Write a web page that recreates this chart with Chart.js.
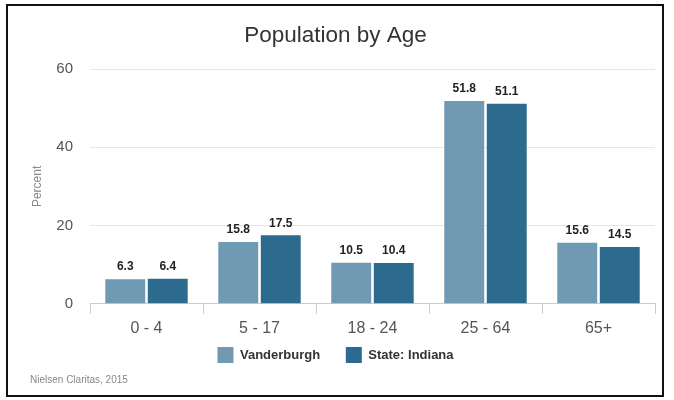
<!DOCTYPE html>
<html>
<head>
<meta charset="utf-8">
<script src="https://cdn.jsdelivr.net/npm/chart.js@4/dist/chart.umd.min.js"></script>
<style>
  html, body { margin: 0; padding: 0; background: #fff; }
  #frame {
    position: absolute; left: 6px; top: 4px;
    width: 654px; height: 389px;
    border: 2px solid #111; background: #fff;
  }
  #frame canvas { display: block; }
</style>
</head>
<body>
<div id="frame"><canvas id="ageChart" width="654" height="389"></canvas></div>
<script>
  // population share by age band (percent)
  var AGE_BANDS = ['0 - 4', '5 - 17', '18 - 24', '25 - 64', '65+'];
  var VANDERBURGH = [6.3, 15.8, 10.5, 51.8, 15.6];
  var INDIANA = [6.4, 17.5, 10.4, 51.1, 14.5];
  var Y_TICKS = [0, 20, 40, 60];
  var SOURCE_NOTE = 'Nielsen Claritas, 2015';

  var FONT = '"Liberation Sans", Arial, Helvetica, sans-serif';

  // prints each bar's value just above it
  var valueLabels = {
    id: 'valueLabels',
    afterDatasetsDraw: function (chart) {
      var ctx = chart.ctx;
      ctx.save();
      ctx.font = 'bold 12px ' + FONT;
      ctx.fillStyle = '#222';
      ctx.textAlign = 'center';
      ctx.textBaseline = 'middle';
      chart.data.datasets.forEach(function (ds, i) {
        chart.getDatasetMeta(i).data.forEach(function (bar, j) {
          ctx.fillText(ds.data[j].toFixed(1), bar.x, bar.y - 12);
        });
      });
      ctx.restore();
    }
  };

  // small source line in the bottom-left corner (space kept by layout padding)
  var sourceNote = {
    id: 'sourceNote',
    afterDraw: function (chart) {
      var ctx = chart.ctx;
      ctx.save();
      ctx.font = '10px ' + FONT;
      ctx.fillStyle = '#888';
      ctx.textAlign = 'left';
      ctx.textBaseline = 'middle';
      ctx.fillText(SOURCE_NOTE, 22, chart.height - 15);
      ctx.restore();
    }
  };

  new Chart(document.getElementById('ageChart'), {
    type: 'bar',
    data: {
      labels: AGE_BANDS,
      datasets: [
        { label: 'Vanderburgh', data: VANDERBURGH, backgroundColor: '#7099b3' },
        { label: 'State: Indiana', data: INDIANA, backgroundColor: '#2c6a8e' }
      ]
    },
    options: {
      responsive: false,
      animation: false,
      categoryPercentage: 0.752,
      barPercentage: 0.94,
      layout: { padding: { left: 8, right: 7, top: 6, bottom: 22 } },
      plugins: {
        title: {
          display: true,
          text: 'Population by Age',
          color: '#333',
          font: { family: FONT, size: 22.5, weight: 'normal' },
          padding: { top: 10, bottom: 20 }
        },
        legend: {
          position: 'bottom',
          labels: {
            color: '#333',
            font: { family: FONT, size: 13, weight: 'bold' },
            boxWidth: 16, boxHeight: 16, padding: 4,
            // extra room between the two entries without a taller legend
            generateLabels: function (chart) {
              var items = Chart.defaults.plugins.legend.labels.generateLabels(chart);
              items.forEach(function (item, i) {
                if (i < items.length - 1) item.text += '      ';
              });
              return items;
            }
          }
        },
        tooltip: { enabled: false }
      },
      scales: {
        x: {
          grid: { offset: true, drawOnChartArea: false, drawTicks: true, tickLength: 10, color: '#ccc' },
          border: { color: '#ccc' },
          ticks: { color: '#555', font: { family: FONT, size: 16 }, padding: 5 }
        },
        y: {
          min: 0, max: 60,
          afterBuildTicks: function (axis) {
            axis.ticks = Y_TICKS.map(function (v) { return { value: v }; });
          },
          afterFit: function (scale) { scale.width = 74; },
          grid: { color: '#e6e6e6', drawTicks: false },
          border: { display: false },
          ticks: { color: '#555', font: { family: FONT, size: 15 }, padding: 17 },
          title: {
            display: true, text: 'Percent', color: '#888',
            font: { family: FONT, size: 12 }, padding: { top: 14, bottom: 0 }
          }
        }
      }
    },
    plugins: [valueLabels, sourceNote]
  });
</script>
</body>
</html>
